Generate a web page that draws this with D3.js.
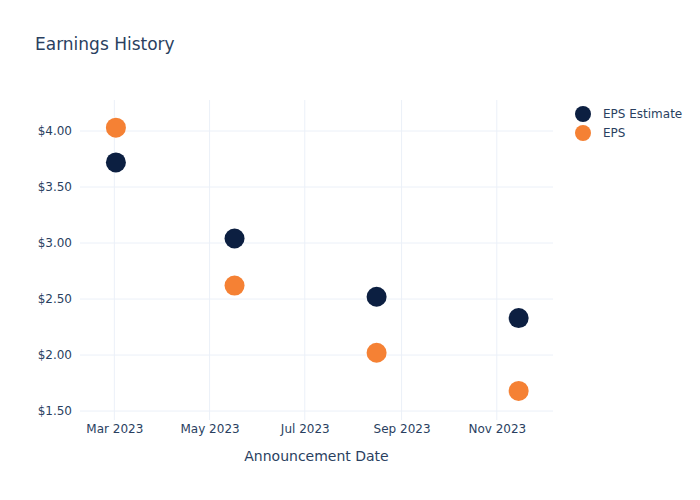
<!DOCTYPE html>
<html>
<head>
<meta charset="utf-8">
<script src="https://cdn.jsdelivr.net/npm/d3@7"></script>
<style>
  body { margin: 0; background: #fff; }
  svg { font-family: "DejaVu Sans", Verdana, sans-serif; }
  .grid line { stroke: #ebf0f8; stroke-width: 1; }
</style>
</head>
<body>
<svg id="chart" width="700" height="500"></svg>
<script>
// announcement dates and values
const dates = ["2023-03-02", "2023-05-17", "2023-08-16", "2023-11-15"];
const epsEstimate = [3.72, 3.04, 2.52, 2.33];
const epsActual = [4.03, 2.62, 2.02, 1.68];
const seriesNames = ["EPS Estimate", "EPS"];
const seriesColors = ["#0c1f41", "#f58134"];
const yTicks = [1.5, 2, 2.5, 3, 3.5, 4];

const SIZE = { width: 700, height: 500 };
const margin = { top: 100, right: 147, bottom: 80, left: 80 };
const W = SIZE.width - margin.left - margin.right;
const H = SIZE.height - margin.top - margin.bottom;

const parse = d3.timeParse("%Y-%m-%d");
const points = dates.map((d, i) => ({ date: parse(d), est: epsEstimate[i], eps: epsActual[i] }));

const x = d3.scaleTime()
  .domain([parse("2023-02-07"), parse("2023-12-07")])
  .range([0, W]);
const y = d3.scaleLinear()
  .domain([1.42, 4.277])
  .range([H, 0]);

const svg = d3.select("#chart");

svg.append("text")
  .attr("x", 35)
  .attr("y", 50)
  .style("font-size", "17px")
  .style("fill", "#2a3f5f")
  .text("Earnings History");

const g = svg.append("g")
  .attr("id", "g-area")
  .attr("transform", `translate(${margin.left},${margin.top})`);

// gridlines
const xTicks = d3.timeMonth.every(2).range(parse("2023-03-01"), parse("2023-12-01"));
g.append("g")
  .attr("class", "grid")
  .selectAll("line")
  .data(xTicks)
  .join("line")
  .attr("x1", d => x(d)).attr("x2", d => x(d))
  .attr("y1", 0).attr("y2", H);

g.append("g")
  .attr("class", "grid")
  .selectAll("line")
  .data(yTicks)
  .join("line")
  .attr("x1", 0).attr("x2", W)
  .attr("y1", d => y(d)).attr("y2", d => y(d));

// axes
const xAxis = g.append("g")
  .attr("transform", `translate(0,${H})`)
  .call(d3.axisBottom(x).tickValues(xTicks).tickFormat(d3.timeFormat("%b %Y")).tickSize(0).tickPadding(4));
const yAxis = g.append("g")
  .call(d3.axisLeft(y).tickValues(yTicks).tickFormat(d => "$" + d3.format(".2f")(d)).tickSize(0).tickPadding(8));

[xAxis, yAxis].forEach(a => {
  a.select(".domain").remove();
  a.selectAll("text")
    .style("font-size", "12px")
    .style("fill", "#2a3f5f")
    .style("font-family", '"DejaVu Sans", Verdana, sans-serif');
});

svg.append("text")
  .attr("x", margin.left + W / 2)
  .attr("y", 461)
  .attr("text-anchor", "middle")
  .style("font-size", "14px")
  .style("fill", "#2a3f5f")
  .text("Announcement Date");

// markers
g.append("g")
  .selectAll("circle")
  .data(points)
  .join("circle")
  .attr("cx", d => x(d.date))
  .attr("cy", d => y(d.est))
  .attr("r", 10)
  .style("fill", seriesColors[0]);

g.append("g")
  .selectAll("circle")
  .data(points)
  .join("circle")
  .attr("cx", d => x(d.date))
  .attr("cy", d => y(d.eps))
  .attr("r", 10)
  .style("fill", seriesColors[1]);

// legend
const legend = svg.append("g").attr("transform", "translate(583,114)");
seriesNames.forEach((name, i) => {
  const row = legend.append("g").attr("transform", `translate(0,${i * 19})`);
  row.append("circle").attr("r", 8).style("fill", seriesColors[i]);
  row.append("text")
    .attr("x", 20)
    .attr("dy", "0.35em")
    .style("font-size", "12px")
    .style("fill", "#2a3f5f")
    .text(name);
});
</script>
</body>
</html>
